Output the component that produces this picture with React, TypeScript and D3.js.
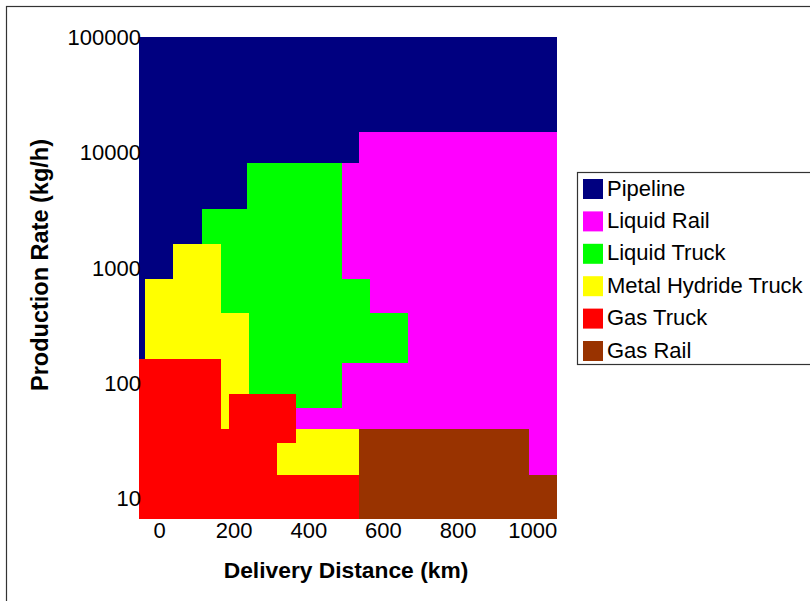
import React, { useEffect, useRef } from 'react';
import * as d3 from 'd3';

// delivery-mode regions, each block is [km from, km to, kg/h low, kg/h high]
const seriesNames = ['Pipeline', 'Liquid Rail', 'Liquid Truck', 'Metal Hydride Truck', 'Gas Truck', 'Gas Rail'];
const seriesColors = ['#000080', '#FF00FF', '#00FF00', '#FFFF00', '#FF0000', '#993300'];

const pipelineBlocks = [
  [-55, 1065, 15000, 100000],
  [-55, 535, 8000, 15000],
  [-55, 235, 3200, 8000],
  [-55, 115, 1600, 3200],
  [-55, 35, 800, 1600],
  [-55, -40, 160, 800],
];
const liquidRailBlocks = [
  [535, 1065, 40, 15000],
  [490, 535, 40, 8000],
  [365, 490, 40, 60],
  [990, 1065, 16, 40],
];
const liquidTruckBlocks = [
  [235, 490, 3200, 8000],
  [115, 490, 1600, 3200],
  [165, 490, 400, 1600],
  [490, 565, 400, 800],
  [240, 665, 150, 400],
  [240, 490, 60, 150],
];
const hydrideTruckBlocks = [
  [35, 165, 800, 1600],
  [-40, 165, 160, 800],
  [165, 240, 40, 400],
  [365, 535, 30, 40],
  [315, 535, 16, 30],
];
const gasTruckBlocks = [
  [-55, 165, 6.6, 160],
  [165, 185, 6.6, 40],
  [185, 365, 30, 80],
  [-55, 315, 6.6, 30],
  [-55, 535, 6.6, 16],
];
const gasRailBlocks = [
  [535, 990, 6.6, 40],
  [990, 1065, 6.6, 16],
];
const blocksBySeries = [pipelineBlocks, liquidRailBlocks, liquidTruckBlocks, hydrideTruckBlocks, gasTruckBlocks, gasRailBlocks];

const xTicks = [0, 200, 400, 600, 800, 1000];
const yTicks = [10, 100, 1000, 10000, 100000];
const xDomain = [-55, 1065];
const yDomain = [6.6, 100000];

const App: React.FC = () => {
  const svgRef = useRef<SVGSVGElement>(null);

  useEffect(() => {
    if (!svgRef.current) return;
    document.body.style.margin = '0';

    const width = 810;
    const height = 601;
    const plot = { left: 139, right: 557, top: 37, bottom: 519 };
    const font = '"Liberation Sans", Arial, sans-serif';

    const svg = d3.select(svgRef.current);
    svg.selectAll('*').remove();

    svg.append('rect')
      .attr('width', width)
      .attr('height', height)
      .attr('fill', '#ffffff');

    // outer chart frame (runs off the right/bottom edge)
    svg.append('rect')
      .attr('x', 6.5)
      .attr('y', 6.5)
      .attr('width', 830)
      .attr('height', 630)
      .attr('fill', 'none')
      .attr('stroke', '#333333')
      .attr('stroke-width', 1.2);

    const x = d3.scaleLinear().domain(xDomain).range([plot.left, plot.right]);
    const y = d3.scaleLog().domain(yDomain).range([plot.bottom, plot.top]);

    const g = svg.append('g').attr('shape-rendering', 'crispEdges');

    blocksBySeries.forEach((blocks, i) => {
      g.selectAll(`.blk-${i}`)
        .data(blocks)
        .enter()
        .append('rect')
        .attr('class', `blk-${i}`)
        .attr('x', (d) => x(d[0]))
        .attr('width', (d) => x(d[1]) - x(d[0]))
        .attr('y', (d) => y(d[3]))
        .attr('height', (d) => y(d[2]) - y(d[3]))
        .attr('fill', seriesColors[i]);
    });

    // tick labels
    svg.selectAll('.xtick')
      .data(xTicks)
      .enter()
      .append('text')
      .attr('class', 'xtick')
      .attr('x', (d) => x(d))
      .attr('y', 538)
      .attr('text-anchor', 'middle')
      .attr('font-family', font)
      .attr('font-size', 22)
      .attr('fill', '#000')
      .text((d) => String(d));

    svg.selectAll('.ytick')
      .data(yTicks)
      .enter()
      .append('text')
      .attr('class', 'ytick')
      .attr('x', 141)
      .attr('y', (d) => y(d) + 8)
      .attr('text-anchor', 'end')
      .attr('font-family', font)
      .attr('font-size', 22)
      .attr('fill', '#000')
      .text((d) => String(d));

    // axis titles
    svg.append('text')
      .attr('x', 346)
      .attr('y', 578)
      .attr('text-anchor', 'middle')
      .attr('font-family', font)
      .attr('font-size', 22.8)
      .attr('font-weight', 'bold')
      .attr('fill', '#000')
      .text('Delivery Distance (km)');

    svg.append('text')
      .attr('transform', 'translate(48,265) rotate(-90)')
      .attr('text-anchor', 'middle')
      .attr('font-family', font)
      .attr('font-size', 23.5)
      .attr('font-weight', 'bold')
      .attr('fill', '#000')
      .text('Production Rate (kg/h)');

    // legend
    const legend = svg.append('g');
    legend.append('rect')
      .attr('x', 577.5)
      .attr('y', 172.5)
      .attr('width', 260)
      .attr('height', 192)
      .attr('fill', '#fff')
      .attr('stroke', '#333333')
      .attr('stroke-width', 1.2);

    const item = legend.selectAll('.item')
      .data(seriesNames)
      .enter()
      .append('g')
      .attr('class', 'item')
      .attr('transform', (_d, i) => `translate(583,${179 + i * 32.4})`);

    item.append('rect')
      .attr('width', 20)
      .attr('height', 20)
      .attr('fill', (_d, i) => seriesColors[i]);

    item.append('text')
      .attr('x', 24)
      .attr('y', 16.5)
      .attr('font-family', font)
      .attr('font-size', 22)
      .attr('fill', '#000')
      .text((d) => d);
  }, []);

  return <svg ref={svgRef} width={810} height={601} style={{ display: 'block' }} />;
};

export default App;
